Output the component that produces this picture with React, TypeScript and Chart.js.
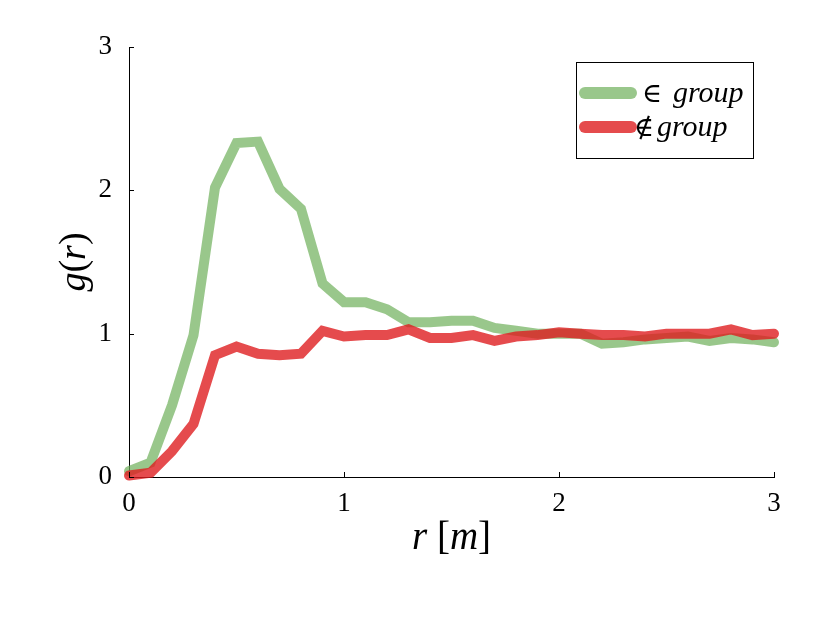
import React, { useEffect, useRef } from 'react';
import { Chart, registerables } from 'chart.js';

Chart.register(...registerables);

// distance bins r [m]
const rValues = [
  0, 0.1, 0.2, 0.3, 0.4, 0.5, 0.6, 0.7, 0.8, 0.9, 1.0,
  1.1, 1.2, 1.3, 1.4, 1.5, 1.6, 1.7, 1.8, 1.9, 2.0,
  2.1, 2.2, 2.3, 2.4, 2.5, 2.6, 2.7, 2.8, 2.9, 3.0,
];

// g(r) for pairs inside the same group
const inGroup = [
  0.04, 0.1, 0.5, 0.99, 2.02, 2.33, 2.34, 2.01, 1.87, 1.35, 1.22,
  1.22, 1.17, 1.08, 1.08, 1.09, 1.09, 1.04, 1.02, 1.0, 1.0,
  1.0, 0.93, 0.94, 0.96, 0.97, 0.98, 0.95, 0.97, 0.96, 0.94,
];

// g(r) for pairs not in the same group
const notInGroup = [
  0.01, 0.03, 0.18, 0.37, 0.85, 0.91, 0.86, 0.85, 0.86, 1.02, 0.98,
  0.99, 0.99, 1.03, 0.97, 0.97, 0.99, 0.95, 0.98, 0.99, 1.01,
  1.0, 0.99, 0.99, 0.98, 1.0, 1.0, 1.0, 1.03, 0.99, 1.0,
];

const yTicks = [0, 1, 2, 3];
const xTicks = [0, 1, 2, 3];

const GREEN = 'rgba(110, 175, 90, 0.7)';
const RED = 'rgba(222, 30, 32, 0.8)';
const SERIF = '"Liberation Serif", "DejaVu Serif", serif';

type Run = [string, boolean]; // text, italic

function runsWidth(ctx: CanvasRenderingContext2D, runs: Run[], size: number) {
  let w = 0;
  for (const [t, it] of runs) {
    ctx.font = `${it ? 'italic ' : ''}${size}px ${SERIF}`;
    w += ctx.measureText(t).width;
  }
  return w;
}

function drawRuns(ctx: CanvasRenderingContext2D, runs: Run[], x: number, y: number, size: number) {
  let cx = x;
  for (const [t, it] of runs) {
    ctx.font = `${it ? 'italic ' : ''}${size}px ${SERIF}`;
    ctx.fillText(t, cx, y);
    cx += ctx.measureText(t).width;
  }
}

const decorations = {
  id: 'decorations',
  afterDraw(chart: any) {
    const ctx: CanvasRenderingContext2D = chart.ctx;
    const a = chart.chartArea;
    const xs = chart.scales.x;
    const ys = chart.scales.y;
    ctx.save();
    ctx.fillStyle = '#000';
    ctx.strokeStyle = '#000';
    ctx.textBaseline = 'alphabetic';
    ctx.textAlign = 'left';

    // inward tick marks
    ctx.lineWidth = 1;
    ctx.beginPath();
    for (const v of xTicks) {
      const px = Math.round(xs.getPixelForValue(v)) + 0.5;
      ctx.moveTo(px, a.bottom);
      ctx.lineTo(px, a.bottom - 5);
    }
    for (const v of yTicks) {
      const py = Math.round(ys.getPixelForValue(v)) + 0.5;
      ctx.moveTo(a.left, py);
      ctx.lineTo(a.left + 5, py);
    }
    ctx.stroke();

    // x axis title: r [m]
    const xRuns: Run[] = [['r', true], [' [', false], ['m', true], [']', false]];
    const xw = runsWidth(ctx, xRuns, 39);
    drawRuns(ctx, xRuns, (a.left + a.right) / 2 - xw / 2, 549, 39);

    // y axis title: g(r)
    const yRuns: Run[] = [['g', true], ['(', false], ['r', true], [')', false]];
    const yw = runsWidth(ctx, yRuns, 38);
    ctx.save();
    ctx.translate(85, (a.top + a.bottom) / 2);
    ctx.rotate(-Math.PI / 2);
    drawRuns(ctx, yRuns, -yw / 2, 0, 38);
    ctx.restore();

    // legend box
    const bx = a.right - 198;
    const by = a.top + 15;
    const bw = 177;
    const bh = 96;
    ctx.fillStyle = '#fff';
    ctx.fillRect(bx, by, bw, bh);
    ctx.lineWidth = 1;
    ctx.strokeRect(bx + 0.5, by + 0.5, bw, bh);

    const items = chart.data.datasets.map((d: any) => ({ label: d.label, color: d.borderColor, key: d.legendOrder }));
    items.sort((p: any, q: any) => p.key - q.key);
    items.forEach((it: any, i: number) => {
      const ly = by + 31 + i * 34;
      ctx.strokeStyle = it.color;
      ctx.lineWidth = 12;
      ctx.lineCap = 'round';
      ctx.beginPath();
      ctx.moveTo(bx + 9, ly);
      ctx.lineTo(bx + 55, ly);
      ctx.stroke();
      const [sym, word] = it.label.split(' ');
      ctx.fillStyle = '#000';
      ctx.font = `27px ${SERIF}`;
      const sx = i === 0 ? bx + 66 : bx + 58;
      ctx.fillText(sym, sx, ly + 9);
      const sw = ctx.measureText(sym).width;
      ctx.font = `italic 30px ${SERIF}`;
      ctx.fillText(word, sx + sw + (i === 0 ? 11 : 3), ly + 9);
    });
    ctx.restore();
  },
};

const App: React.FC = () => {
  const canvasRef = useRef<HTMLCanvasElement | null>(null);
  const chartRef = useRef<Chart | null>(null);

  useEffect(() => {
    if (!canvasRef.current) return;
    chartRef.current?.destroy();
    const ctx = canvasRef.current.getContext('2d');
    if (!ctx) return;

    chartRef.current = new Chart(ctx, {
      type: 'line',
      data: {
        datasets: [
          {
            label: '∈ group',
            data: rValues.map((r, i) => ({ x: r, y: inGroup[i] })),
            borderColor: GREEN,
            borderWidth: 10,
            borderCapStyle: 'round',
            pointRadius: 0,
            tension: 0,
            clip: false as any,
            order: 2,
            legendOrder: 0,
          } as any,
          {
            label: '∉ group',
            data: rValues.map((r, i) => ({ x: r, y: notInGroup[i] })),
            borderColor: RED,
            borderWidth: 10,
            borderCapStyle: 'round',
            pointRadius: 0,
            tension: 0,
            clip: false as any,
            order: 1,
            legendOrder: 1,
          } as any,
        ],
      },
      options: {
        responsive: false,
        animation: false,
        layout: { padding: { left: 0, top: 47, right: 48, bottom: 0 } },
        plugins: {
          legend: { display: false },
          tooltip: { enabled: false },
        },
        scales: {
          x: {
            type: 'linear',
            min: 0,
            max: 3,
            afterFit: (s: any) => { s.height = 140; },
            afterBuildTicks: (s: any) => { s.ticks = xTicks.map((v) => ({ value: v })); },
            grid: { display: true, drawOnChartArea: false, drawTicks: false },
            border: { display: true, color: '#000', width: 1 },
            ticks: {
              color: '#000',
              padding: 11,
              maxRotation: 0,
              font: { family: SERIF, size: 27 },
            },
          },
          y: {
            type: 'linear',
            min: 0,
            max: 3,
            afterFit: (s: any) => { s.width = 129; },
            afterBuildTicks: (s: any) => { s.ticks = yTicks.map((v) => ({ value: v })); },
            grid: { display: true, drawOnChartArea: false, drawTicks: false },
            border: { display: true, color: '#000', width: 1 },
            ticks: {
              color: '#000',
              padding: 17,
              font: { family: SERIF, size: 27 },
            },
          },
        },
      },
      plugins: [decorations],
    });

    return () => {
      chartRef.current?.destroy();
      chartRef.current = null;
    };
  }, []);

  return (
    <div style={{ position: 'absolute', left: 0, top: 0, width: 822, height: 617, background: '#fff' }}>
      <canvas ref={canvasRef} width={822} height={617} />
    </div>
  );
};

export default App;
